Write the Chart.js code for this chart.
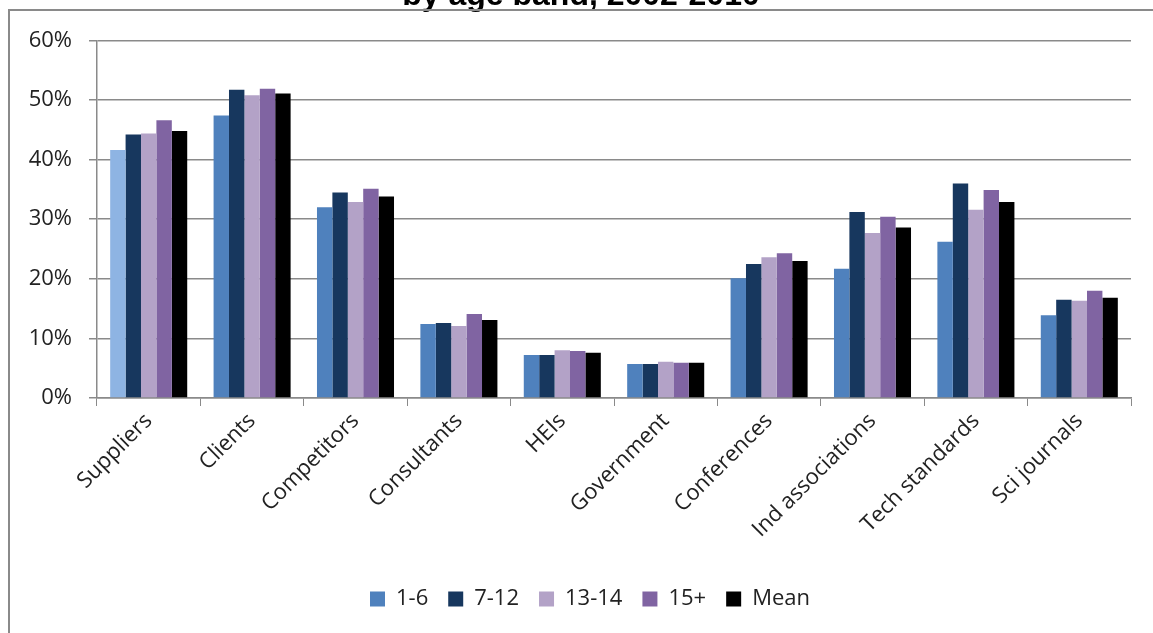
<!DOCTYPE html>
<html>
<head>
<meta charset="utf-8">
<title>Sources of information by age band</title>
<script src="https://cdn.jsdelivr.net/npm/chart.js@4.4.1/dist/chart.umd.min.js"></script>
<style>
  html, body { margin: 0; padding: 0; background: #fff; overflow: hidden; }
  body { width: 1153px; height: 633px; position: relative; }
  #wrap { position: absolute; left: 0; top: -23px; width: 1153px; height: 656px; }
  #frame {
    position: absolute; left: 8px; top: 9px; width: 1200px; height: 700px;
    border-left: 2px solid #8a8a8a; border-top: 2px solid #8a8a8a;
    pointer-events: none;
  }
</style>
</head>
<body>
<div id="wrap"><canvas id="grafico"></canvas></div>
<div id="frame"></div>
<script>
// categorias e series (% de empresas)
const categorias = ['Suppliers', 'Clients', 'Competitors', 'Consultants', 'HEIs',
    'Government', 'Conferences', 'Ind associations', 'Tech standards', 'Sci journals'];
const idade1a6 = [41.6, 47.4, 32.0, 12.4, 7.2, 5.7, 20.1, 21.7, 26.2, 13.9];
const idade7a12 = [44.2, 51.7, 34.5, 12.6, 7.2, 5.7, 22.5, 31.2, 36.0, 16.5];
const idade13a14 = [44.4, 50.8, 32.9, 12.1, 8.0, 6.1, 23.6, 27.7, 31.6, 16.3];
const idade15mais = [46.6, 51.9, 35.1, 14.1, 7.9, 5.9, 24.3, 30.4, 34.9, 18.0];
const media = [44.8, 51.1, 33.8, 13.1, 7.6, 5.9, 23.0, 28.6, 32.9, 16.8];
const rotulosSeries = ['1-6', '7-12', '13-14', '15+', 'Mean'];
const ticksY = [0, 10, 20, 30, 40, 50, 60];

const fonte = "'Open Sans', 'Noto Sans', sans-serif";
const cinza = '#8a8a8a';
const azul = '#4F81BD';
const azulClaro = '#8EB4E3';

// legenda e titulo do original ficam um pouco deslocados para a direita
const deslocaBlocos = {
    id: 'deslocaBlocos',
    beforeDraw(chart) {
        if (chart.legend) chart.legend.left = 49;
        if (chart.titleBlock) chart.titleBlock.left = 31;
    }
};

function criarGrafico() {
    const ctx = document.getElementById('grafico');
    new Chart(ctx, {
        type: 'bar',
        data: {
            labels: categorias,
            datasets: [
                {
                    label: rotulosSeries[0], data: idade1a6,
                    // a primeira barra (Suppliers) esta mais clara no original
                    backgroundColor: c => c.dataIndex === 0 ? azulClaro : azul
                },
                { label: rotulosSeries[1], data: idade7a12, backgroundColor: '#17375E' },
                { label: rotulosSeries[2], data: idade13a14, backgroundColor: '#B3A2C7' },
                { label: rotulosSeries[3], data: idade15mais, backgroundColor: '#8064A2' },
                { label: rotulosSeries[4], data: media, backgroundColor: '#000000' }
            ]
        },
        options: {
            responsive: true,
            maintainAspectRatio: false,
            animation: false,
            datasets: { bar: { categoryPercentage: 0.745, barPercentage: 1.0, borderWidth: 0 } },
            layout: { padding: { left: 0, right: 22, top: 0, bottom: 13 } },
            plugins: {
                title: {
                    display: true,
                    text: 'by age band, 2002-2010',
                    color: '#000',
                    font: { family: "'Liberation Sans', Arial, sans-serif", size: 32, weight: 'bold' },
                    padding: { top: 0, bottom: 25 }
                },
                legend: {
                    position: 'bottom',
                    labels: {
                        color: '#222',
                        font: { family: fonte, size: 22 },
                        boxWidth: 15, boxHeight: 15, padding: 20,
                        generateLabels: chart => {
                            const itens = Chart.defaults.plugins.legend.labels.generateLabels(chart);
                            itens[0].fillStyle = azul;
                            itens[0].strokeStyle = azul;
                            return itens;
                        }
                    }
                },
                tooltip: { enabled: false }
            },
            scales: {
                x: {
                    grid: { display: true, drawOnChartArea: false, drawTicks: true, tickLength: 8, color: cinza, offset: true },
                    border: { color: cinza, width: 1.5 },
                    ticks: { color: '#222', font: { family: fonte, size: 22 }, minRotation: 45, maxRotation: 45, padding: 2 },
                    afterFit: s => { s.height = 170; }
                },
                y: {
                    min: 0, max: 60,
                    afterBuildTicks: s => { s.ticks = ticksY.map(v => ({ value: v })); },
                    grid: { color: cinza, lineWidth: 1.5, tickLength: 8 },
                    border: { color: cinza, width: 1.5 },
                    ticks: { color: '#222', font: { family: fonte, size: 22 }, padding: 17, callback: v => v + '%' },
                    afterFit: s => { s.width = 97; }
                }
            }
        },
        plugins: [deslocaBlocos]
    });
}

document.addEventListener('DOMContentLoaded', criarGrafico);
</script>
</body>
</html>
